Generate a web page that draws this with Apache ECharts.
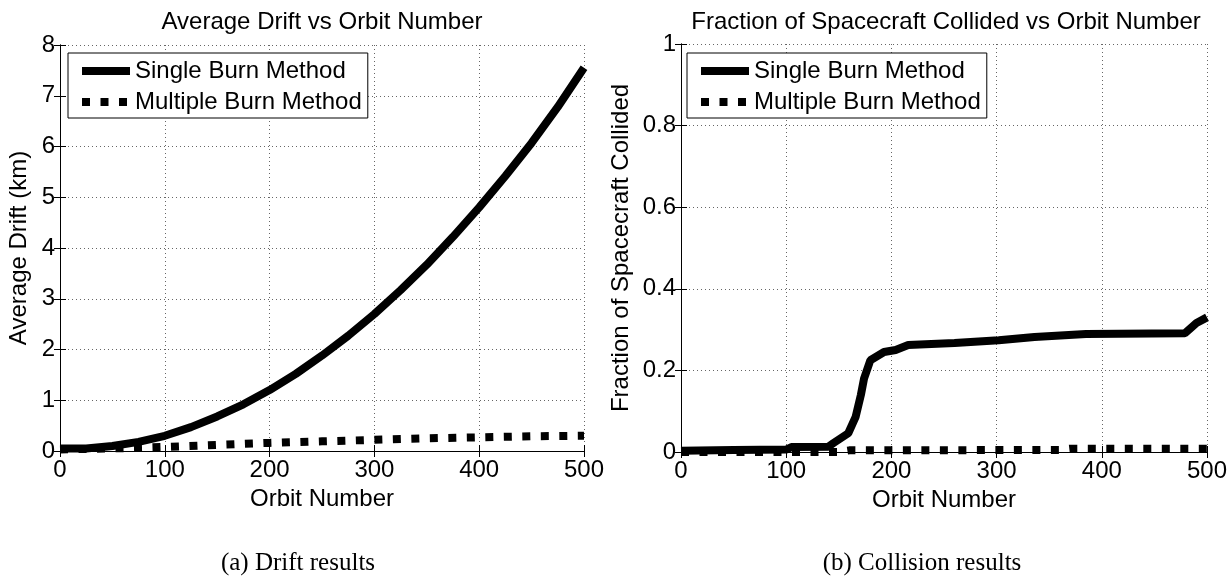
<!DOCTYPE html>
<html>
<head>
<meta charset="utf-8">
<script src="https://cdn.jsdelivr.net/npm/echarts@6/dist/echarts.min.js"></script>
<style>
html,body{margin:0;padding:0;background:#fff;}
#chart{width:1232px;height:576px;}
</style>
</head>
<body>
<div id="chart"></div>
<script>
// (a) average drift
var driftOrbits = [0, 25, 50, 75, 100, 125, 150, 175, 200, 225, 250, 275, 300, 325, 350, 375, 400, 425, 450, 475, 500];
var driftSingle = [0.05, 0.05, 0.1, 0.18, 0.3, 0.47, 0.68, 0.92, 1.2, 1.52, 1.88, 2.27, 2.7, 3.17, 3.67, 4.22, 4.8, 5.42, 6.07, 6.78, 7.55];
var driftMultiOrbits = [0, 50, 100, 150, 200, 250, 300, 350, 400, 450, 500];
var driftMulti = [0.03, 0.05, 0.08, 0.12, 0.16, 0.19, 0.22, 0.25, 0.27, 0.29, 0.3];

// (b) fraction collided
var collOrbits = [0, 50, 100, 105, 140, 145, 159, 166, 171, 174, 180, 193, 204, 216, 260, 302, 336, 385, 479, 490, 500];
var collSingle = [0.003, 0.005, 0.006, 0.012, 0.013, 0.022, 0.046, 0.086, 0.14, 0.18, 0.225, 0.245, 0.25, 0.262, 0.267, 0.274, 0.282, 0.289, 0.291, 0.316, 0.33];
var collMultiOrbits = [0, 150, 160, 360, 370, 500];
var collMulti = [0, 0, 0.004, 0.005, 0.008, 0.008];

var xTicks = [0, 100, 200, 300, 400, 500];
var legendNames = ['Single Burn Method', 'Multiple Burn Method'];

var sans = '"Liberation Sans", Arial, Helvetica, sans-serif';
var serif = '"Liberation Serif", "DejaVu Serif", serif';

function pairs(xs, ys) {
  return xs.map(function (x, i) { return [x, ys[i]]; });
}

function xAxisBottom(g) {
  return {
    type: 'value', gridIndex: g, min: xTicks[0], max: xTicks[xTicks.length - 1], interval: 100,
    name: 'Orbit Number', nameLocation: 'middle', nameGap: 33,
    nameTextStyle: {color: '#000', fontSize: 24, fontFamily: sans},
    axisLine: {lineStyle: {color: '#000', width: 1}},
    axisTick: {inside: true, length: 6, lineStyle: {color: '#000'}},
    axisLabel: {color: '#000', fontSize: 24, fontFamily: sans, margin: 7},
    splitLine: {show: true, lineStyle: {color: '#666', width: 1, type: [1, 3]}}
  };
}
function xAxisTop(g) {
  return {
    type: 'value', gridIndex: g, position: 'top', min: 0, max: 500, interval: 100,
    axisLine: {lineStyle: {color: '#000', width: 1}},
    axisTick: {inside: true, length: 6, lineStyle: {color: '#000'}},
    axisLabel: {show: false}, splitLine: {show: false}
  };
}
function yAxisLeft(g, max, step, name, gap) {
  return {
    type: 'value', gridIndex: g, min: 0, max: max, interval: step,
    name: name, nameLocation: 'middle', nameGap: gap,
    nameTextStyle: {color: '#000', fontSize: 24, fontFamily: sans},
    axisLine: {show: true, lineStyle: {color: '#000', width: 1}},
    axisTick: {show: true, inside: true, length: 6, lineStyle: {color: '#000'}},
    axisLabel: {color: '#000', fontSize: 24, fontFamily: sans, margin: 5},
    splitLine: {show: true, lineStyle: {color: '#666', width: 1, type: [1, 3]}}
  };
}
function yAxisRight(g, max, step) {
  return {
    type: 'value', gridIndex: g, position: 'right', min: 0, max: max, interval: step,
    axisLine: {show: true, lineStyle: {color: '#000', width: 1}},
    axisTick: {show: true, inside: true, length: 6, lineStyle: {color: '#000'}},
    axisLabel: {show: false}, splitLine: {show: false}
  };
}
function lineSeries(name, xi, yi, data, dashed) {
  return {
    type: 'line', name: name, xAxisIndex: xi, yAxisIndex: yi, data: data,
    symbol: 'none', clip: false, z: dashed ? 2 : 3,
    lineStyle: {color: '#000', width: 8, type: dashed ? [8, 10.5] : 'solid', cap: 'butt'},
    itemStyle: {color: '#000'}
  };
}
function legendBox(left) {
  return {
    left: left, top: 53, orient: 'vertical', data: legendNames,
    itemWidth: 48, itemHeight: 24, itemGap: 7, padding: [6, 6, 4, 10],
    borderColor: '#000', borderWidth: 1, borderRadius: 0, backgroundColor: '#fff',
    selectedMode: false,
    itemStyle: {opacity: 0},
    lineStyle: {width: 8, opacity: 1},
    textStyle: {color: '#000', fontSize: 24, fontFamily: sans}
  };
}
function label(text, x, y, font, size) {
  return {
    type: 'text', x: x, y: y, silent: true,
    style: {text: text, fill: '#000', fontSize: size, fontFamily: font, align: 'center', verticalAlign: 'middle'}
  };
}

var chart = echarts.init(document.getElementById('chart'));
chart.setOption({
  animation: false,
  backgroundColor: '#fff',
  grid: [
    {left: 60, top: 45, width: 524, height: 406},
    {left: 681, top: 44, width: 526, height: 408}
  ],
  xAxis: [xAxisBottom(0), xAxisTop(0), xAxisBottom(1), xAxisTop(1)],
  yAxis: [
    yAxisLeft(0, 8, 1, 'Average Drift (km)', 29),
    yAxisRight(0, 8, 1),
    yAxisLeft(1, 1, 0.2, 'Fraction of Spacecraft Collided', 48),
    yAxisRight(1, 1, 0.2)
  ],
  legend: [legendBox(68), legendBox(687)],
  series: [
    lineSeries(legendNames[1], 0, 0, pairs(driftMultiOrbits, driftMulti), true),
    lineSeries(legendNames[0], 0, 0, pairs(driftOrbits, driftSingle), false),
    lineSeries(legendNames[1], 2, 2, pairs(collMultiOrbits, collMulti), true),
    lineSeries(legendNames[0], 2, 2, pairs(collOrbits, collSingle), false)
  ],
  graphic: [
    label('Average Drift vs Orbit Number', 322, 22, sans, 24),
    label('Fraction of Spacecraft Collided vs Orbit Number', 946, 22, sans, 24),
    label('(a) Drift results', 298, 563, serif, 25),
    label('(b) Collision results', 922, 563, serif, 25)
  ]
});
</script>
</body>
</html>
